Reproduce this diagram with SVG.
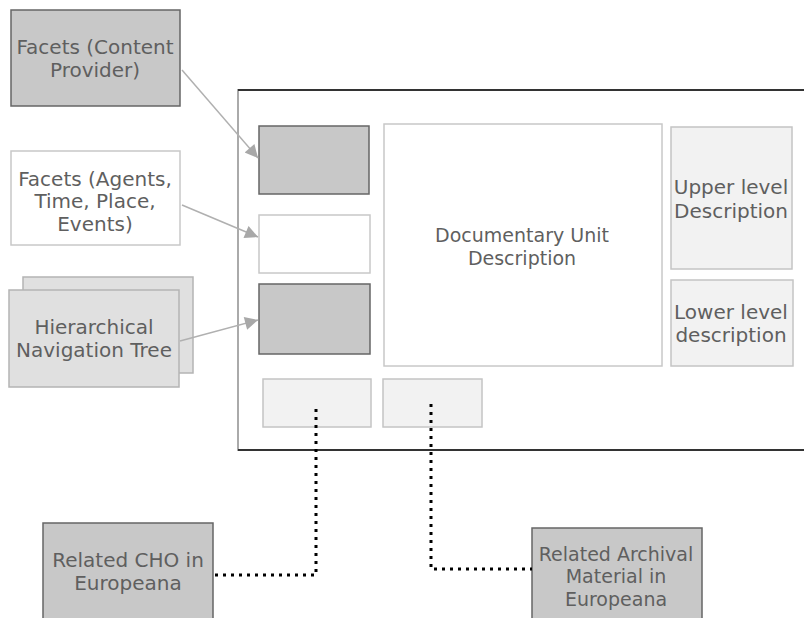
<svg xmlns="http://www.w3.org/2000/svg" width="804" height="618" viewBox="0 0 804 618">
<defs>
<style>
text{font-family:"DejaVu Sans",Verdana,sans-serif;font-size:20px;fill:#5f5f5f;text-anchor:middle}
.dark{fill:#c8c8c8;stroke:#666;stroke-width:1.5}
.white{fill:#fff;stroke:#c8c8c8;stroke-width:1.5}
.light{fill:#f2f2f2;stroke:#c4c4c4;stroke-width:1.5}
.tree{fill:#e0e0e0;stroke:#b4b4b4;stroke-width:1.5}
.arrow{stroke:#b0b0b0;stroke-width:1.5;fill:none;marker-end:url(#ah)}
.dot{stroke:#000;stroke-width:3;fill:none;stroke-dasharray:3 5}
</style>
<marker id="ah" viewBox="0 0 10 10" refX="10" refY="5" markerWidth="17" markerHeight="13" markerUnits="userSpaceOnUse" orient="auto">
<path d="M0,0 L10,5 L0,10 z" fill="#a8a8a8"/>
</marker>
</defs>

<g id="frame">
<rect x="238" y="90" width="600" height="360" fill="#fff" stroke="#aaa" stroke-width="2"/>
<line x1="238" y1="90" x2="804" y2="90" stroke="#333" stroke-width="2"/>
<line x1="238" y1="450" x2="804" y2="450" stroke="#333" stroke-width="2"/>
</g>

<g id="facets-cp">
<rect class="dark" x="11" y="10" width="169" height="96"/>
<text x="95" y="54">Facets (Content</text>
<text x="95" y="77">Provider)</text>
</g>

<g id="facets-agents">
<rect class="white" x="11" y="151" width="169" height="94"/>
<text x="95" y="186">Facets (Agents,</text>
<text x="95" y="208">Time, Place,</text>
<text x="95" y="231">Events)</text>
</g>

<g id="hier-tree">
<rect class="tree" x="23" y="277" width="170" height="96"/>
<rect class="tree" x="9" y="290" width="170" height="97"/>
<text x="94" y="334">Hierarchical</text>
<text x="94" y="357">Navigation Tree</text>
</g>

<g id="box-cp">
<rect class="dark" x="259" y="126" width="110" height="68"/>
</g>
<g id="box-agents">
<rect class="white" x="259" y="215" width="111" height="58"/>
</g>
<g id="box-tree">
<rect class="dark" x="259" y="284" width="111" height="70"/>
</g>

<g id="doc-unit">
<rect class="white" x="384" y="124" width="278" height="242" stroke="#bbb"/>
<text x="522" y="242" style="font-size:19px">Documentary Unit</text>
<text x="522" y="265" style="font-size:19px">Description</text>
</g>

<g id="upper-level">
<rect class="light" x="671" y="127" width="121" height="142"/>
<text x="731" y="194">Upper level</text>
<text x="731" y="218">Description</text>
</g>

<g id="lower-level">
<rect class="light" x="671" y="280" width="122" height="86"/>
<text x="731" y="319">Lower level</text>
<text x="731" y="342">description</text>
</g>

<g id="slot-cho">
<rect class="light" x="263" y="379" width="108" height="48"/>
</g>
<g id="slot-archival">
<rect class="light" x="383" y="379" width="99" height="48"/>
</g>

<g id="related-cho">
<rect class="dark" x="43" y="523" width="170" height="110"/>
<text x="128" y="567">Related CHO in</text>
<text x="128" y="590">Europeana</text>
</g>

<g id="related-archival">
<rect class="dark" x="532" y="528" width="170" height="110"/>
<text x="616" y="561" style="font-size:19px">Related Archival</text>
<text x="616" y="583" style="font-size:19px">Material in</text>
<text x="616" y="606" style="font-size:19px">Europeana</text>
</g>

<g id="connectors">
<line class="arrow" x1="182" y1="70" x2="258" y2="158"/>
<line class="arrow" x1="182" y1="205" x2="258" y2="237"/>
<line class="arrow" x1="180" y1="341" x2="258" y2="320"/>
<polyline class="dot" points="316,409 316,575 213,575"/>
<polyline class="dot" points="431,404 431,569 532,569"/>
</g>
</svg>
